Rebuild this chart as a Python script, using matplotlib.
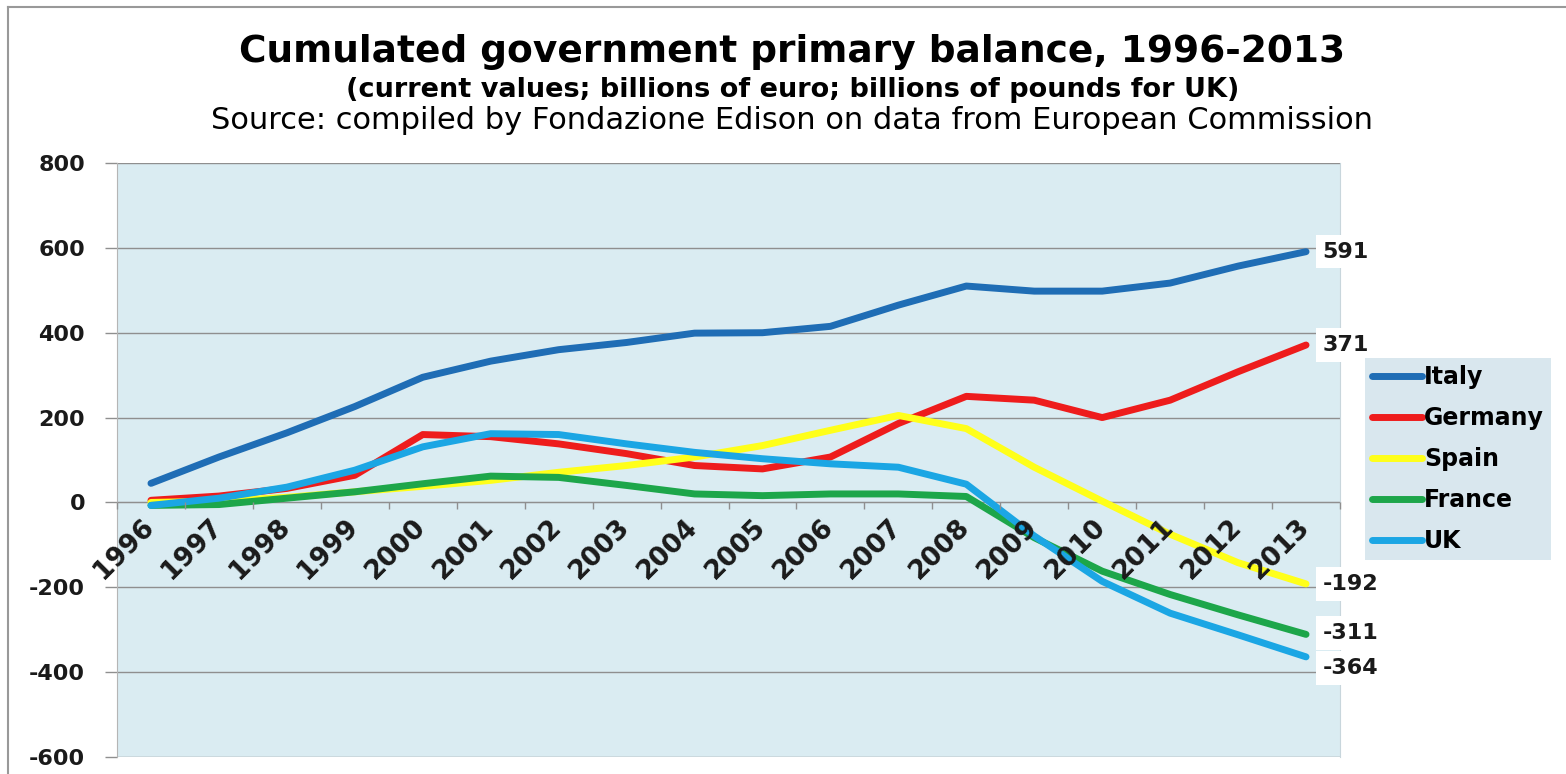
import numpy as np
import matplotlib
matplotlib.use('agg')
import matplotlib.pyplot as plt
from matplotlib.lines import Line2D
from matplotlib.transforms import ScaledTranslation

years = [str(y) for y in range(1996, 2014)]
italy = [45, 107, 164, 226, 295, 333, 360, 377, 399, 400, 415, 465, 510, 498, 498, 517, 557, 591]
germany = [5, 15, 33, 64, 160, 155, 138, 115, 87, 79, 107, 186, 250, 241, 200, 241, 308, 371]
spain = [0, 3, 12, 25, 38, 52, 71, 87, 107, 134, 170, 205, 174, 83, 3, -75, -142, -192]
france = [-7, -5, 10, 25, 44, 62, 59, 40, 20, 16, 20, 20, 14, -83, -162, -217, -265, -311]
uk = [-7, 10, 36, 76, 131, 162, 160, 138, 118, 103, 91, 83, 43, -79, -186, -261, -312, -364]

names = ['Italy', 'Germany', 'Spain', 'France', 'UK']
colors = ['#1F6DB5', '#EE1C1C', '#FFFF1A', '#1DA64A', '#1BA6E4']
# vertical nudge (points) for the end labels so the bottom two don't collide
label_dy = [0, 0, 0, 1, -8]

W, H = 1566, 774
fig = plt.figure(figsize=(W / 100, H / 100), dpi=100)
ax = fig.add_axes([117 / W, 17 / H, 1223 / W, 594 / H])

x = np.arange(len(years))
series = [italy, germany, spain, france, uk]
for name, vals, col in zip(names, series, colors):
    ax.plot(x, vals, color=col, lw=5, label=name, zorder=2,
            solid_joinstyle='round', solid_capstyle='round')

ax.set_xlim(-0.5, len(years) - 0.5)
ax.set_ylim(-600, 800)
ax.set_facecolor('#DAECF2')

grid_col = '#8f8f8f'
ax.set_axisbelow(True)
ax.yaxis.grid(True, color=grid_col, lw=1)
ax.set_yticks(range(-600, 801, 200))
ax.set_yticklabels([str(v) for v in range(-600, 801, 200)], fontsize=16,
                   fontweight='bold', color='#1a1a1a')
ax.tick_params(axis='y', length=9, width=1, color=grid_col, pad=14)

# category axis crosses at zero, ticks between categories
ax.spines['bottom'].set_position(('data', 0))
ax.spines['bottom'].set_color(grid_col)
ax.spines['bottom'].set_zorder(1.6)
ax.spines['top'].set_visible(False)
ax.spines['left'].set_color('#b5b5b5')
ax.spines['right'].set_color('#c8d6dc')
ax.set_xticks(np.arange(-0.5, len(years), 1))
ax.set_xticklabels([])
ax.tick_params(axis='x', which='major', length=5, width=1, color=grid_col, direction='out')
ax.set_xticks(x, minor=True)
ax.set_xticklabels(years, minor=True, rotation=45, ha='right', va='top',
                   rotation_mode='anchor', fontsize=19, fontweight='bold', color='#1a1a1a')
ax.tick_params(axis='x', which='minor', length=0, pad=8)
shift = ScaledTranslation(-7 / 72, 0, fig.dpi_scale_trans)
for lbl in ax.xaxis.get_minorticklabels():
    lbl.set_transform(lbl.get_transform() + shift)
ax.xaxis.set_zorder(3)

# values at the end of each line
for vals, dy in zip(series, label_dy):
    ax.annotate(str(vals[-1]), xy=(x[-1], vals[-1]), xytext=(12, dy),
                textcoords='offset points', ha='left', va='center',
                fontsize=16, fontweight='bold', color='#1a1a1a',
                bbox=dict(boxstyle='square,pad=0.3', fc='white', ec='none'),
                annotation_clip=False, zorder=4)

ax.legend(loc='upper left', bbox_to_anchor=(1365 / W, 1 - 358 / H),
          bbox_transform=fig.transFigure, frameon=True, fancybox=False,
          facecolor='#D9E7EE', edgecolor='none', framealpha=1,
          prop=dict(weight='bold', size=17), handlelength=2.1,
          handletextpad=0.1, labelspacing=0.72, borderpad=0.3, borderaxespad=0)

fig.text(0.506, 1 - 62 / H, 'Cumulated government primary balance, 1996-2013',
         ha='center', va='baseline', fontsize=27, fontweight='bold')
fig.text(0.506, 1 - 97 / H, '(current values; billions of euro; billions of pounds for UK)',
         ha='center', va='baseline', fontsize=19.5, fontweight='bold')
fig.text(0.506, 1 - 129 / H, 'Source: compiled by Fondazione Edison on data from European Commission',
         ha='center', va='baseline', fontsize=22)

# outer chart frame
fig.add_artist(Line2D([8 / W, 8 / W], [0, 1 - 7 / H], transform=fig.transFigure, color='#999999', lw=1.5))
fig.add_artist(Line2D([8 / W, 1], [1 - 7 / H, 1 - 7 / H], transform=fig.transFigure, color='#999999', lw=1.5))

fig.savefig('out.png', dpi=100)
